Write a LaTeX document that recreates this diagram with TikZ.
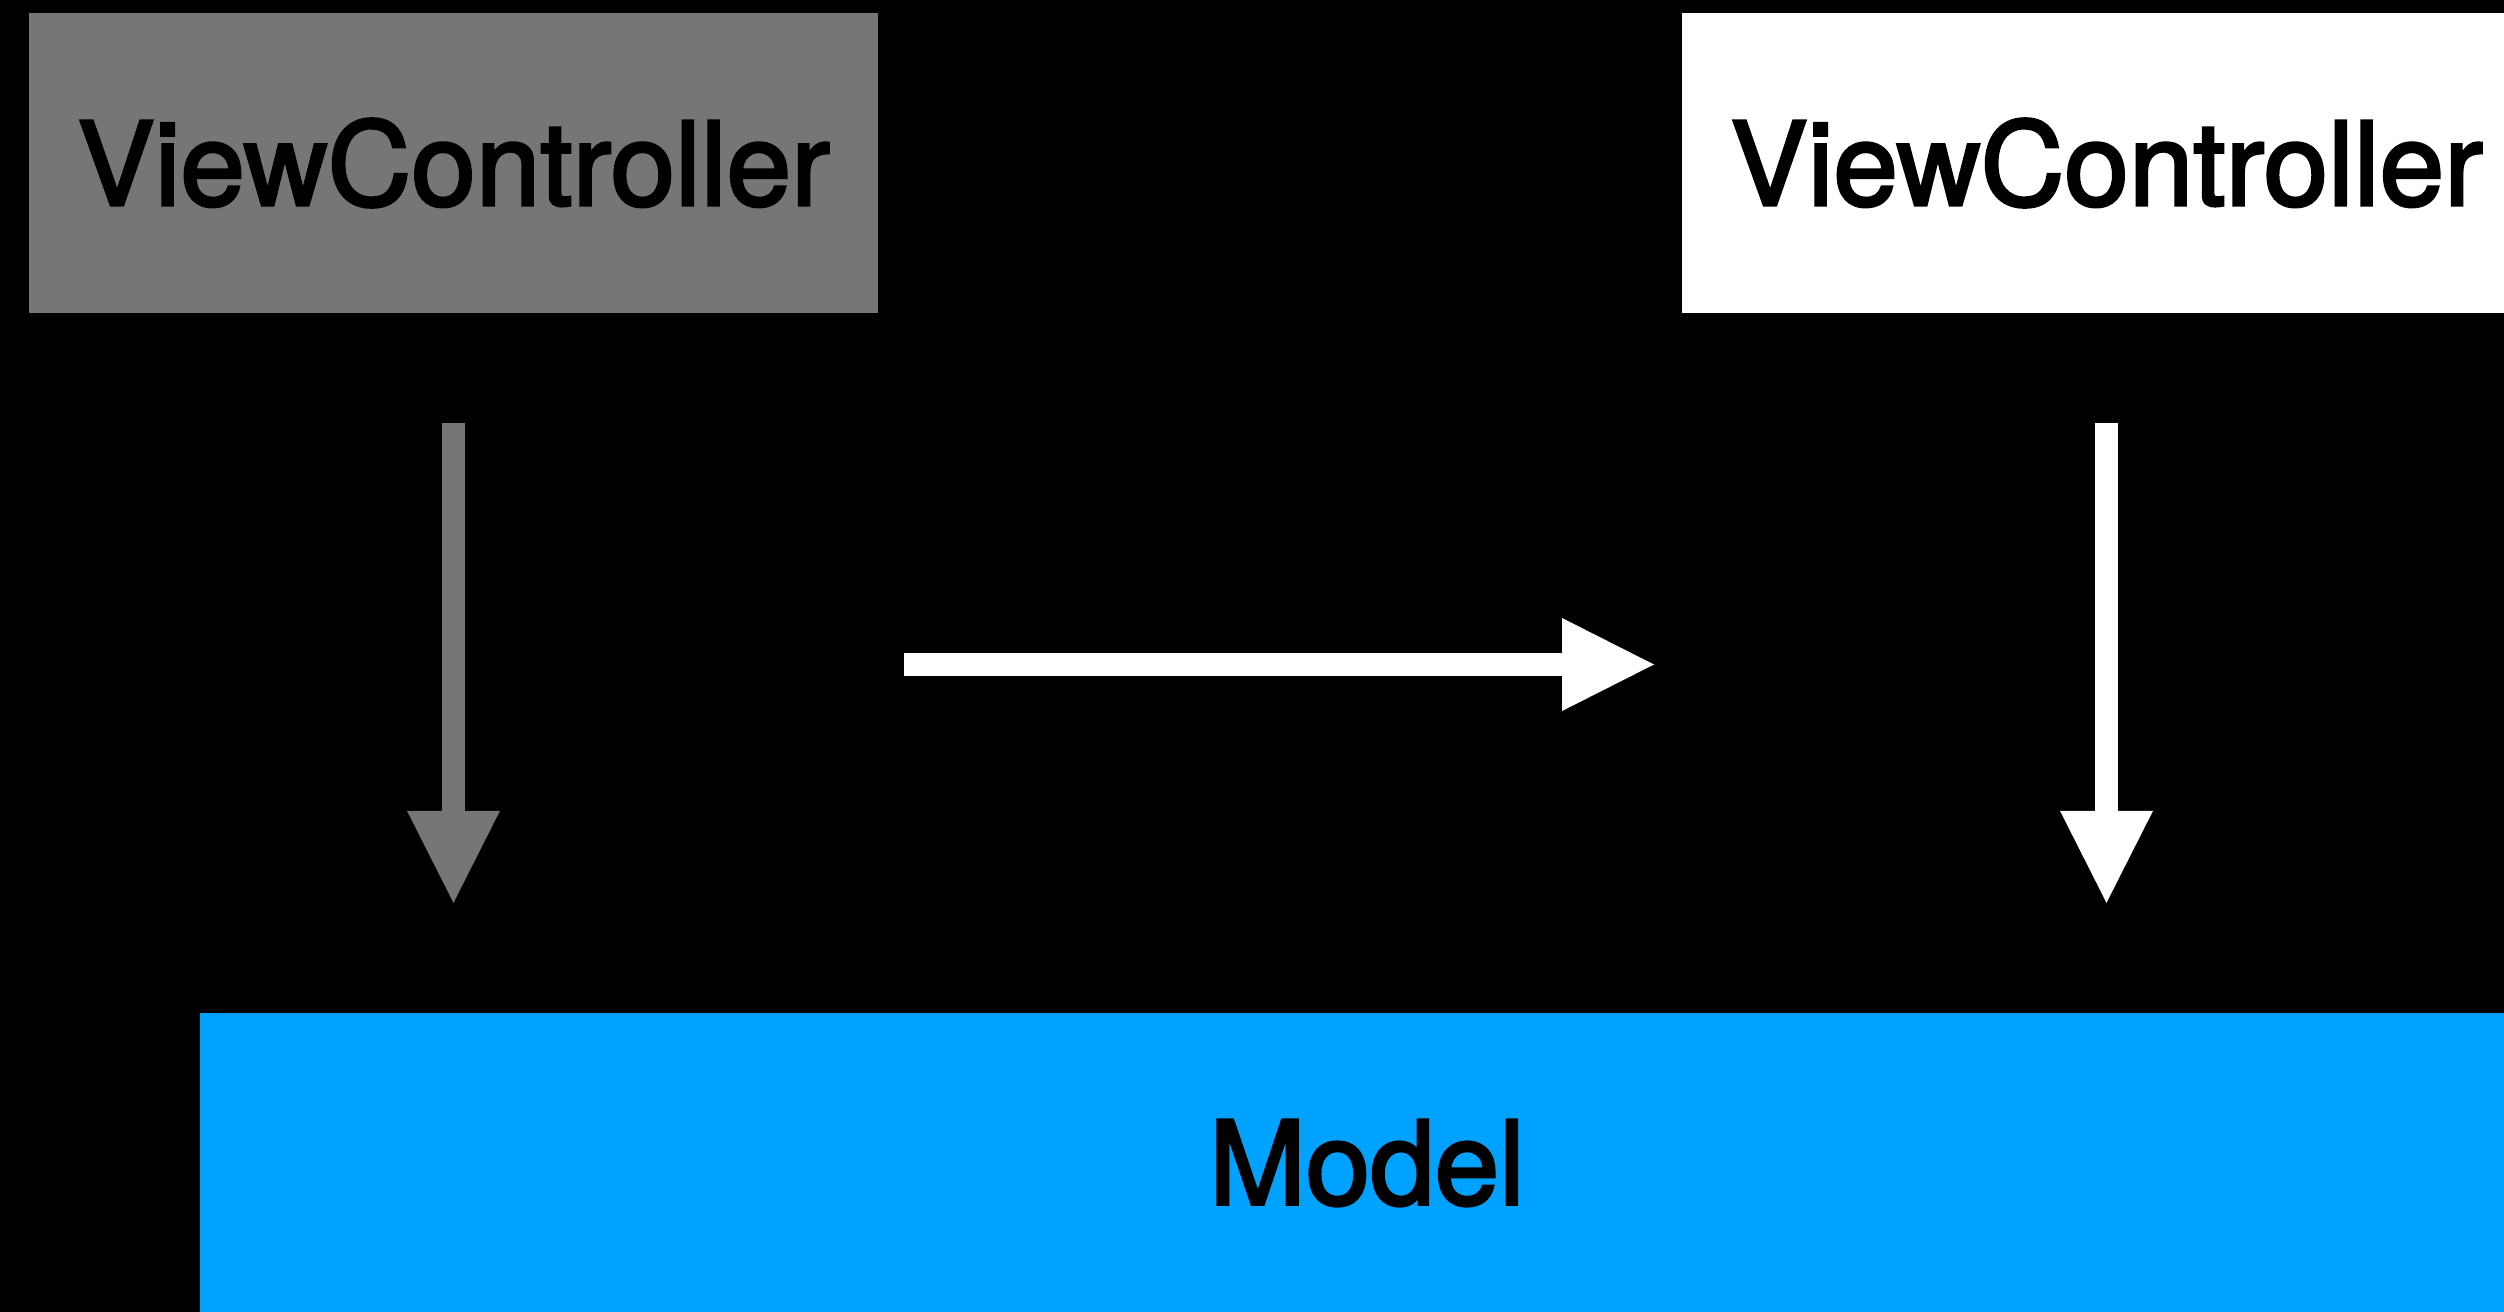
\documentclass[tikz,border=0pt]{standalone}
\usepackage{fontspec}
\setmainfont{TeX Gyre Heros}
\newfontfamily\hfont[FakeBold=2.5]{TeX Gyre Heros}
\usetikzlibrary{arrows.meta}
\definecolor{vcgray}{RGB}{118,118,118}
\definecolor{modelblue}{RGB}{0,162,255}
\tikzset{
  box/.style={minimum width=849pt, minimum height=300pt, inner sep=0pt, draw=none, text=black,
    font=\hfont\fontsize{116}{130}\selectfont},
  bigarrow/.style={line width=23pt, -{Triangle[length=92pt,width=93pt,line width=0pt]}}
}
\begin{document}
\begin{tikzpicture}[x=1pt,y=-1pt]
\path[use as bounding box] (0,0) rectangle (2504,1312);
\clip (0,0) rectangle (2504,1312);
\fill[black] (0,0) rectangle (2504,1312);
\node[box, fill=vcgray] (vc1) at (453.5,163) {ViewController};
\node[box, fill=white] (vc2) at (2106.5,163) {ViewController};
\node[box, fill=modelblue, minimum width=2334pt] (model) at (1367,1163) {Model};
\coordinate (h1) at (904,664.5);
\coordinate (h2) at (1654,664.5);
\draw[bigarrow, vcgray] ([yshift=-110pt]vc1.south) -- ([yshift=110pt]vc1.south |- model.north);
\draw[bigarrow, white] ([yshift=-110pt]vc2.south) -- ([yshift=110pt]vc2.south |- model.north);
\draw[bigarrow, white] (h1) -- (h2);
\end{tikzpicture}
\end{document}
